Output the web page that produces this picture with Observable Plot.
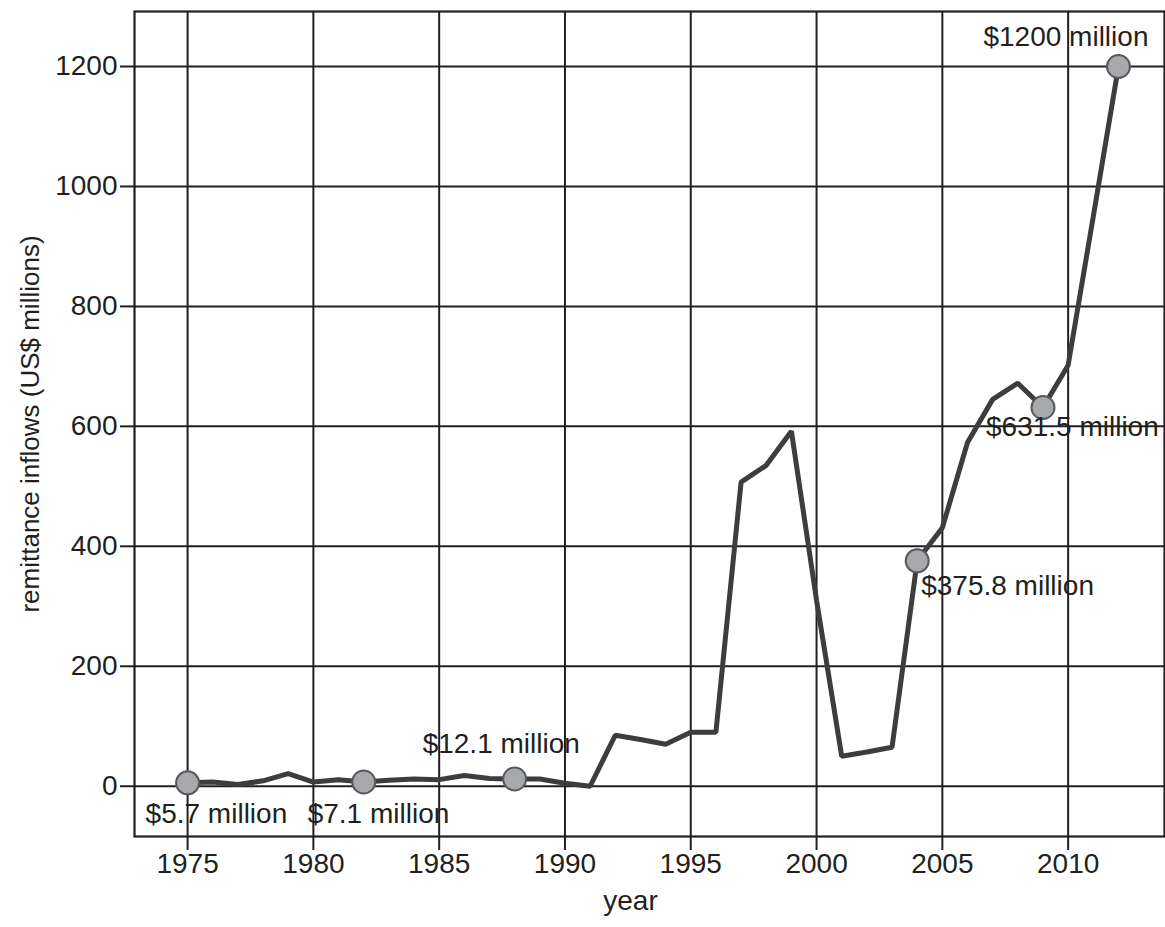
<!DOCTYPE html>
<html>
<head>
<meta charset="utf-8">
<script src="https://cdn.jsdelivr.net/npm/d3@7"></script>
<script src="https://cdn.jsdelivr.net/npm/@observablehq/plot@0.6"></script>
<style>
  html, body { margin: 0; padding: 0; background: #fff; }
</style>
</head>
<body>
<div id="chart"></div>
<script>
const years = [1975, 1976, 1977, 1978, 1979, 1980, 1981, 1982, 1983, 1984,
               1985, 1986, 1987, 1988, 1989, 1990, 1991, 1992, 1993, 1994,
               1995, 1996, 1997, 1998, 1999, 2000, 2001, 2002, 2003, 2004,
               2005, 2006, 2007, 2008, 2009, 2010, 2011, 2012];
const remittances = [5.7, 7, 3, 9, 21, 7, 11, 7.1, 10, 12,
                     11, 18, 13, 12.1, 12, 5, 0, 85, 78, 70,
                     90, 90, 507, 535, 592, 310, 50, 57, 65, 375.8,
                     431, 573, 645, 672, 631.5, 702, 950, 1200];
const labelYears = [1975, 1982, 1988, 2004, 2009, 2012];
const labelTexts = ["$5.7 million", "$7.1 million", "$12.1 million",
                    "$375.8 million", "$631.5 million", "$1200 million"];
const xTicks = [1975, 1980, 1985, 1990, 1995, 2000, 2005, 2010];
const yTicks = [0, 200, 400, 600, 800, 1000, 1200];
const xLabel = "year";
const yLabel = "remittance inflows (US$ millions)";

const data = years.map((y, i) => ({year: y, value: remittances[i]}));
const labels = labelYears.map((y, i) => ({year: y, value: remittances[years.indexOf(y)], text: labelTexts[i]}));

// label offsets (style, px) for each annotation, in labelYears order
const offsets = [[-42, 31], [-56, 32], [-92, -35], [4, 25], [-57, 20], [-135, -29]];

const ink = "#231f20";
const font = "Liberation Sans, Arial, Helvetica, sans-serif";

const annot = labels.map((d, i) => Plot.text([d], {
  x: "year", y: "value", text: "text",
  textAnchor: "start", dx: offsets[i][0], dy: offsets[i][1],
  fontSize: 28, fill: ink
}));

const chart = Plot.plot({
  width: 1165,
  height: 927,
  marginLeft: 134,
  marginRight: 1,
  marginTop: 11,
  marginBottom: 91,
  style: {fontFamily: font, background: "#fff", color: ink},
  x: {domain: [1972.89, 2013.83]},
  y: {domain: [-83.8, 1291.7]},
  marks: [
    Plot.gridX(xTicks, {stroke: ink, strokeOpacity: 1, strokeWidth: 2}),
    Plot.gridY(yTicks, {stroke: ink, strokeOpacity: 1, strokeWidth: 2}),
    Plot.frame({stroke: ink, strokeWidth: 2.2}),
    Plot.axisX(xTicks, {tickSize: 14, tickPadding: 3, fontSize: 28, tickFormat: "d", label: null, stroke: ink, strokeWidth: 2, fill: ink}),
    Plot.axisY(yTicks, {tickSize: 14, tickPadding: 3, fontSize: 28, tickFormat: "d", label: null, stroke: ink, strokeWidth: 2, fill: ink}),
    Plot.text([yLabel], {frameAnchor: "left", textAnchor: "middle", text: d => d, rotate: -90, dx: -104, fontSize: 26, fill: ink}),
    Plot.text([xLabel], {frameAnchor: "bottom", textAnchor: "middle", text: d => d, dy: 73, dx: -19, fontSize: 28, fill: ink}),
    Plot.line(data, {x: "year", y: "value", stroke: "#3d3d3d", strokeWidth: 5, strokeLinejoin: "miter"}),
    Plot.dot(labels, {x: "year", y: "value", r: 11.5, fill: "#a7a9ac", stroke: "#58595b", strokeWidth: 2}),
    ...annot
  ]
});
document.getElementById("chart").appendChild(chart);
</script>
</body>
</html>
